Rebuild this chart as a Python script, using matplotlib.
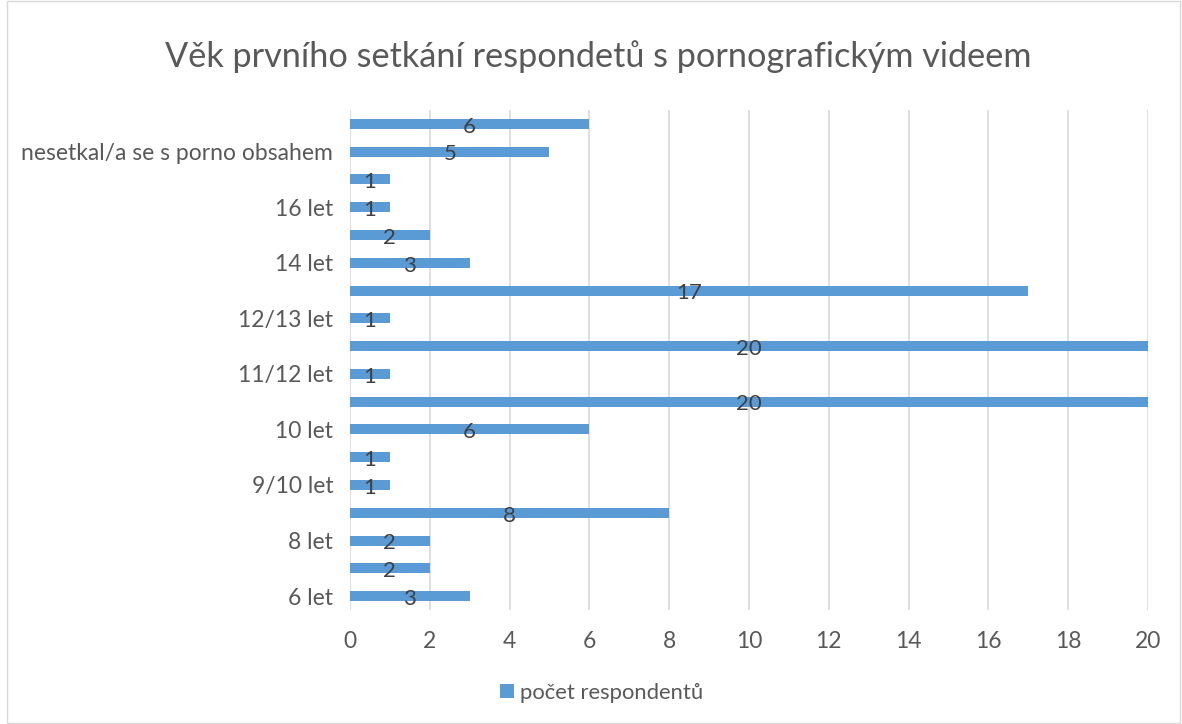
import matplotlib.pyplot as plt
from matplotlib.patches import Rectangle

plt.rcParams['font.family'] = ['Lato', 'DejaVu Sans']

# categories bottom -> top (only every other one is labelled on the axis)
categories = ['6 let', '7 let', '8 let', '9 let', '9/10 let', '10/11 let',
              '10 let', '11 let', '11/12 let', '12 let', '12/13 let', '13 let',
              '14 let', '15 let', '16 let', '17 let',
              'nesetkal/a se s porno obsahem', 'nevím']
counts = [3, 2, 2, 8, 1, 1, 6, 20, 1, 20, 1, 17, 3, 2, 1, 1, 5, 6]
shown = ['6 let', '8 let', '9/10 let', '10 let', '11/12 let', '12/13 let',
         '14 let', '16 let', 'nesetkal/a se s porno obsahem']

bar_color = '#5B9BD5'
text_color = '#595959'

fig = plt.figure(figsize=(11.82, 7.24), dpi=100)
ax = fig.add_axes([0.2961, 0.1575, 0.6751, 0.6906])

y = list(range(len(categories)))
ax.barh(y, counts, height=0.36, color=bar_color, zorder=3,
        label='počet respondentů')
for yi, c in zip(y, counts):
    ax.text(c / 2, yi - 0.1, str(c), ha='center', va='center',
            fontsize=16, color='#404040', zorder=4)

ax.set_ylim(-0.5, len(categories) - 0.5)
ax.set_xlim(0, 20)
ax.set_xticks(range(0, 21, 2))
ax.set_yticks(y)
ax.set_yticklabels([c if c in shown else '' for c in categories])
ax.tick_params(axis='both', length=0, labelsize=16.5, colors=text_color)
ax.tick_params(axis='y', pad=12)
ax.tick_params(axis='x', pad=15)
ax.grid(axis='x', color='#D9D9D9', linewidth=1.2, zorder=0)
for s in ax.spines.values():
    s.set_visible(False)

fig.suptitle('Věk prvního setkání respondetů s pornografickým videem',
             x=0.506, y=0.945, fontsize=24.7, color=text_color)

fig.legend(loc='center', bbox_to_anchor=(0.509, 0.043), frameon=False,
           fontsize=15.8, labelcolor=text_color, handlelength=0.65,
           handleheight=0.65, handletextpad=0.25)

fig.patches.append(Rectangle((0.006, 0.002), 0.992, 0.996, transform=fig.transFigure,
                             fill=False, edgecolor='#D9D9D9', linewidth=1))

fig.savefig('out.png', dpi=100)
